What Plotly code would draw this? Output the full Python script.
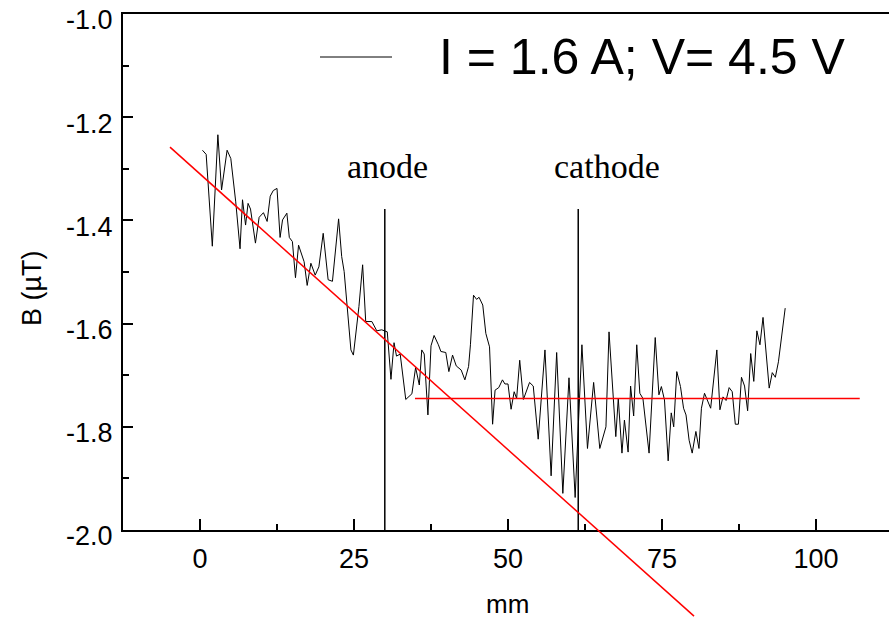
import plotly.graph_objects as go

# ---------------- data ----------------
pos_mm = [0.4, 1.0, 2.0, 2.9, 3.5, 4.4, 5.0, 5.8, 6.5, 6.9, 7.4, 7.8, 8.2, 9.0, 9.6,
          10.3, 10.9, 11.4, 11.9, 12.5, 13.0, 13.4, 14.1, 14.5, 15.0, 15.5, 16.0, 16.9,
          17.4, 18.0, 18.7, 19.3, 20.0, 20.8, 21.5, 22.5, 23.0, 23.4, 24.5, 24.9, 25.8,
          26.4, 26.9, 27.9, 28.7, 29.5, 30.4, 31.0, 31.5, 31.9, 32.5, 33.4, 34.4, 35.0,
          35.6, 36.0, 36.4, 37.0, 37.5, 38.0, 38.7, 39.1, 39.9, 40.4, 41.0, 41.6, 42.4,
          43.0, 43.6, 43.9, 44.4, 44.9, 45.3, 45.9, 46.4, 47.0, 47.5, 47.9, 48.5, 49.1,
          49.5, 50.0, 50.5, 51.0, 51.4, 51.9, 52.5, 53.5, 54.1, 54.9, 56.0, 57.0, 57.9,
          58.9, 59.9, 60.9, 62.0, 62.9, 63.9, 64.9, 65.9, 66.4, 67.5, 67.9, 68.5, 68.9,
          69.5, 69.9, 70.4, 70.9, 71.4, 71.9, 72.9, 73.9, 74.5, 74.9, 75.4, 76.0, 76.5,
          76.9, 77.4, 78.0, 78.5, 78.9, 79.4, 79.9, 80.5, 81.0, 81.4, 81.9, 82.9, 83.9,
          84.4, 84.9, 85.4, 85.9, 86.4, 86.9, 87.4, 87.9, 88.4, 88.9, 89.4, 89.9, 90.4,
          90.9, 91.4, 92.4, 92.9, 93.4, 93.9, 95.0]
b_field = [-1.264, -1.272, -1.450, -1.234, -1.341, -1.264, -1.280, -1.364, -1.455, -1.360,
           -1.409, -1.367, -1.378, -1.444, -1.394, -1.385, -1.402, -1.353, -1.342, -1.338,
           -1.433, -1.399, -1.386, -1.433, -1.441, -1.511, -1.448, -1.480, -1.526, -1.483,
           -1.506, -1.490, -1.425, -1.515, -1.518, -1.397, -1.470, -1.499, -1.651, -1.661,
           -1.567, -1.486, -1.596, -1.596, -1.614, -1.612, -1.616, -1.708, -1.637, -1.663,
           -1.659, -1.747, -1.736, -1.685, -1.719, -1.651, -1.659, -1.777, -1.643, -1.623,
           -1.641, -1.654, -1.656, -1.693, -1.661, -1.682, -1.690, -1.709, -1.683, -1.641,
           -1.545, -1.553, -1.549, -1.564, -1.619, -1.645, -1.795, -1.729, -1.724, -1.709,
           -1.717, -1.717, -1.766, -1.732, -1.745, -1.671, -1.747, -1.714, -1.721, -1.824,
           -1.651, -1.895, -1.656, -1.929, -1.705, -1.937, -1.641, -1.842, -1.714, -1.842,
           -1.800, -1.616, -1.819, -1.745, -1.851, -1.787, -1.849, -1.721, -1.779, -1.641,
           -1.735, -1.745, -1.851, -1.627, -1.738, -1.722, -1.748, -1.866, -1.773, -1.800,
           -1.693, -1.722, -1.764, -1.777, -1.826, -1.851, -1.809, -1.842, -1.764, -1.735,
           -1.764, -1.651, -1.767, -1.742, -1.749, -1.724, -1.732, -1.795, -1.795, -1.704,
           -1.721, -1.769, -1.658, -1.712, -1.614, -1.641, -1.588, -1.725, -1.695, -1.704,
           -1.674, -1.570]

# electrode markers (vertical lines)
electrode_names = ["anode", "cathode"]
electrode_x = [30.0, 61.4]
electrode_y = [-2.0, -1.378]
electrode_label_x = [30.5, 66.1]
electrode_label_y = -1.295

# red fitted lines
slope_x = [-4.87, 80.2]
slope_y = [-1.258, -2.167]
flat_x = [34.9, 107.1]
flat_y = [-1.745, -1.745]

x_ticks = [0, 25, 50, 75, 100]
x_tick_labels = ["0", "25", "50", "75", "100"]
y_ticks = [-2.0, -1.8, -1.6, -1.4, -1.2, -1.0]
y_tick_labels = ["-2.0", "-1.8", "-1.6", "-1.4", "-1.2", "-1.0"]
legend_text = "I = 1.6 A; V= 4.5 V"

# ---------------- layout geometry ----------------
W, H = 889, 619
PL, PR, PT, PB = 123, 889, 14, 530  # plot area in pixels
x_range = [-12.5, 111.85]
y_range = [-2.0, -0.99995]

xs = (x_range[1] - x_range[0]) / (PR - PL)
ys = (y_range[1] - y_range[0]) / (PB - PT)
x2_range = [x_range[0] - PL * xs, x_range[1] + (W - PR) * xs]
y2_range = [y_range[0] - (H - PB) * ys, y_range[1] + PT * ys]

SANS = "Liberation Sans, Arial, sans-serif"
SERIF = "Liberation Serif, Times New Roman, serif"

fig = go.Figure()

fig.add_trace(go.Scatter(x=pos_mm, y=b_field, mode="lines",
                         line=dict(color="black", width=1), showlegend=False,
                         xaxis="x", yaxis="y"))
for ex in electrode_x:
    fig.add_trace(go.Scatter(x=[ex, ex], y=electrode_y, mode="lines",
                             line=dict(color="black", width=1.5), showlegend=False,
                             xaxis="x", yaxis="y"))

# red lines on an overlay axis pair spanning the whole figure (same scale), not clipped
fig.add_trace(go.Scatter(x=slope_x, y=slope_y, mode="lines",
                         line=dict(color="#ff0000", width=1.5), showlegend=False,
                         xaxis="x2", yaxis="y2"))
fig.add_trace(go.Scatter(x=flat_x, y=flat_y, mode="lines",
                         line=dict(color="#ff0000", width=1.5), showlegend=False,
                         xaxis="x2", yaxis="y2"))

axis_common = dict(showgrid=False, zeroline=False, showline=True, linecolor="black",
                   linewidth=2, ticks="inside", tickcolor="black", tickwidth=1.5,
                   automargin=False, ticklabeloverflow="allow",
                   tickfont=dict(family=SANS, size=27, color="black"))

fig.update_layout(
    width=W, height=H,
    margin=dict(l=0, r=0, t=0, b=0),
    paper_bgcolor="white", plot_bgcolor="rgba(0,0,0,0)",
    showlegend=False,
    xaxis=dict(domain=[PL / W, PR / W], range=x_range, anchor="y",
               tickvals=x_ticks, ticktext=x_tick_labels, ticklen=11, mirror=True,
               ticklabelstandoff=4,
               minor=dict(ticks="inside", dtick=12.5, tick0=0, ticklen=6,
                          tickwidth=1.5, tickcolor="black"),
               **axis_common),
    yaxis=dict(domain=[1 - PB / H, 1 - PT / H], range=y_range, anchor="x",
               tickvals=y_ticks, ticktext=y_tick_labels, ticklen=10,
               ticklabelstandoff=3, ticklabelshift=6,
               minor=dict(ticks="inside", dtick=0.1, tick0=-2.0, ticklen=6,
                          tickwidth=1.5, tickcolor="black"),
               **axis_common),
    xaxis2=dict(domain=[0, 1], range=x2_range, anchor="y2", visible=False,
                fixedrange=True),
    yaxis2=dict(domain=[0, 1], range=y2_range, anchor="x2", visible=False,
                fixedrange=True),
)

# legend (manual, to match the long sample line)
fig.add_shape(type="line", xref="paper", yref="paper",
              x0=320 / W, x1=392 / W, y0=1 - 57 / H, y1=1 - 57 / H,
              line=dict(color="black", width=1))
fig.add_annotation(text=legend_text, xref="paper", yref="paper",
                   x=437 / W, y=1 - 57 / H, xanchor="left", yanchor="middle",
                   showarrow=False, font=dict(family=SANS, size=50, color="black"))

for name, lx in zip(electrode_names, electrode_label_x):
    fig.add_annotation(text=name, xref="x", yref="y", x=lx, y=electrode_label_y,
                       xanchor="center", yanchor="middle", showarrow=False,
                       font=dict(family=SERIF, size=34, color="black"))

# axis titles
fig.add_annotation(text="B (µT)", xref="paper", yref="paper", x=32 / W, y=1 - 288 / H,
                   textangle=-90, showarrow=False, xanchor="center", yanchor="middle",
                   font=dict(family=SANS, size=27, color="black"))
fig.add_annotation(text="mm", xref="paper", yref="paper", x=507 / W, y=1 - 604 / H,
                   showarrow=False, xanchor="center", yanchor="middle",
                   font=dict(family=SANS, size=26, color="black"))

fig.write_html("out.html")
